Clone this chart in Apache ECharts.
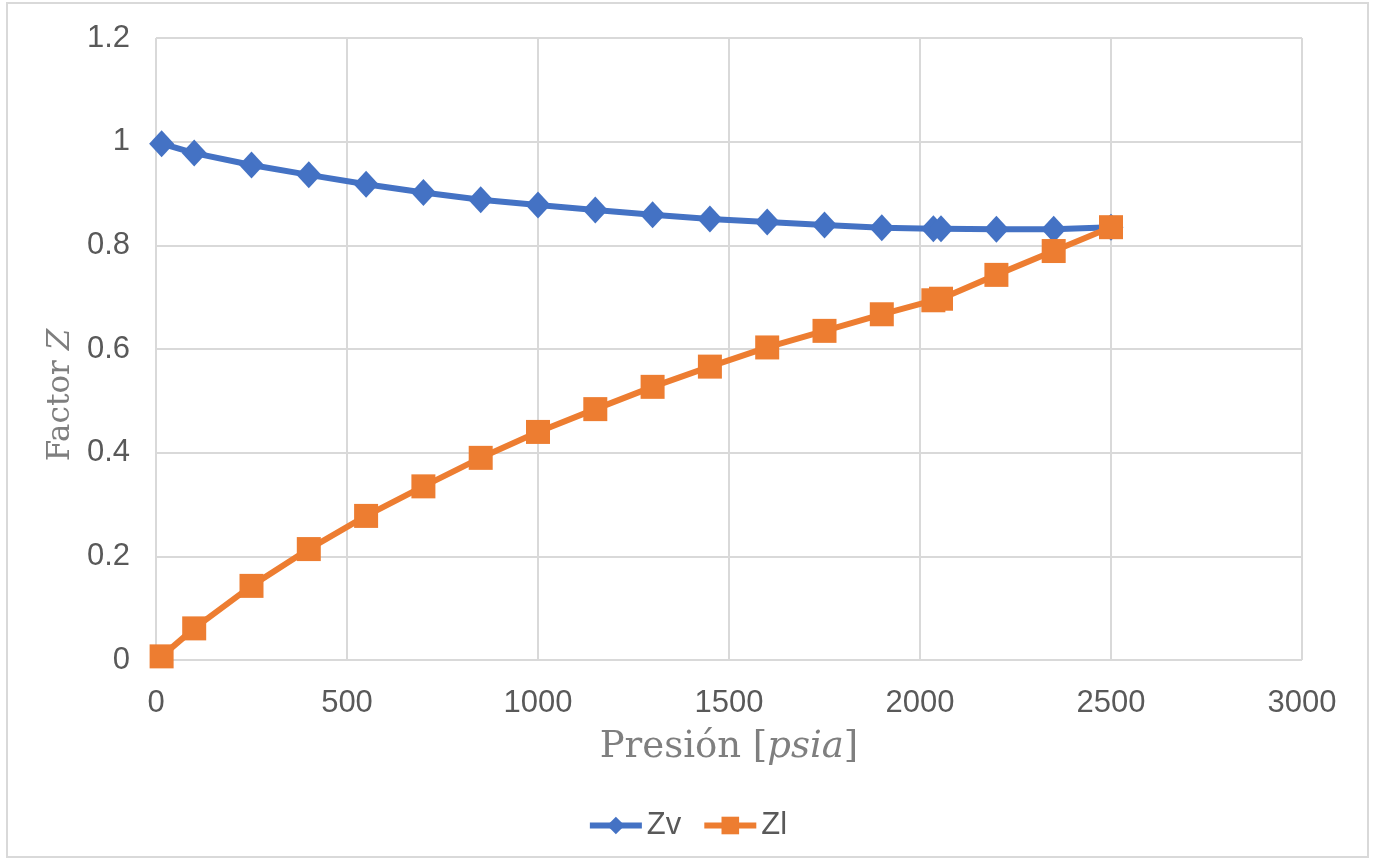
<!DOCTYPE html>
<html>
<head>
<meta charset="utf-8">
<script src="https://cdn.jsdelivr.net/npm/echarts@6/dist/echarts.min.js"></script>
<style>
  html, body { margin: 0; padding: 0; background: #fff; }
  #chart { width: 1374px; height: 860px; }
</style>
</head>
<body>
<div id="chart"></div>
<script>
// pressures (psia)
var presion = [14.7, 100, 250, 400, 550, 700, 850, 1000, 1150, 1300, 1450, 1600, 1750, 1900, 2035, 2055, 2200, 2350, 2500];
var zv = [0.996, 0.978, 0.955, 0.936, 0.918, 0.902, 0.888, 0.878, 0.868, 0.859, 0.851, 0.845, 0.839, 0.834, 0.832, 0.832, 0.831, 0.831, 0.835];
var zl = [0.007, 0.061, 0.143, 0.214, 0.278, 0.335, 0.390, 0.440, 0.484, 0.527, 0.566, 0.603, 0.635, 0.667, 0.694, 0.697, 0.743, 0.789, 0.835];
var xTicks = [0, 500, 1000, 1500, 2000, 2500, 3000];
var yTicks = [0, 0.2, 0.4, 0.6, 0.8, 1, 1.2];

var pair = function (ys) {
  return presion.map(function (p, i) { return [p, ys[i]]; });
};

var chart = echarts.init(document.getElementById('chart'));
var tickFont = { color: '#595959', fontSize: 31, fontFamily: 'Liberation Sans, Arial, sans-serif' };
var gridLine = { show: true, lineStyle: { color: '#d9d9d9', width: 2 } };
var nameRich = function (size, fam) {
  return {
    r: { fontFamily: fam, fontSize: size, color: '#7f7f7f' },
    i: { fontFamily: fam, fontStyle: 'italic', fontSize: size, color: '#7f7f7f' }
  };
};

var option = {
  animation: false,
  backgroundColor: '#fff',
  graphic: [{
    type: 'rect',
    shape: { x: 7, y: 3, width: 1361, height: 854 },
    style: { fill: null, stroke: '#d9d9d9', lineWidth: 2 }
  }],
  grid: { left: 156, top: 38, right: 72, bottom: 200 },
  legend: {
    bottom: 14,
    left: 'center',
    itemWidth: 52,
    itemHeight: 22,
    itemGap: 20,
    textStyle: tickFont,
    lineStyle: { width: 6 },
    data: ['Zv', 'Zl']
  },
  xAxis: {
    type: 'value',
    min: xTicks[0],
    max: xTicks[xTicks.length - 1],
    interval: 500,
    axisLine: { show: false },
    axisTick: { show: false },
    splitLine: gridLine,
    axisLabel: Object.assign({ margin: 28, formatter: function (v) { return String(v); } }, tickFont),
    name: '{r|Presión [}{i|psia}{r|]}',
    nameLocation: 'middle',
    nameGap: 69,
    nameTextStyle: { rich: nameRich(37, 'DejaVu Serif, serif') }
  },
  yAxis: {
    type: 'value',
    min: yTicks[0],
    max: yTicks[yTicks.length - 1],
    interval: 0.2,
    axisLine: { show: false },
    axisTick: { show: false },
    splitLine: gridLine,
    axisLabel: Object.assign({ margin: 26 }, tickFont),
    name: '{r|Factor }{i|Z}',
    nameLocation: 'middle',
    nameGap: 80,
    nameTextStyle: { padding: [0, 92, 0, 0], rich: nameRich(31, 'DejaVu Serif, serif') }
  },
  series: [
    {
      name: 'Zv',
      type: 'line',
      data: pair(zv),
      symbol: 'diamond',
      symbolSize: [25, 27],
      lineStyle: { color: '#4472c4', width: 6 },
      itemStyle: { color: '#4472c4' }
    },
    {
      name: 'Zl',
      type: 'line',
      data: pair(zl),
      symbol: 'rect',
      symbolSize: 24,
      lineStyle: { color: '#ed7d31', width: 6 },
      itemStyle: { color: '#ed7d31' }
    }
  ]
};
option && chart.setOption(option);
</script>
</body>
</html>
